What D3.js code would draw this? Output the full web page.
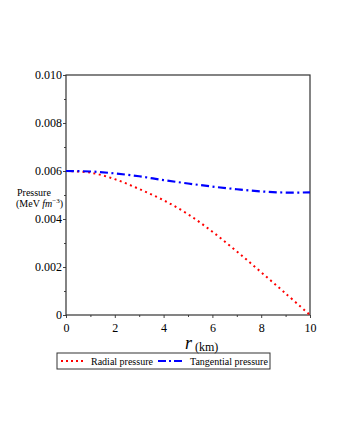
<!DOCTYPE html>
<meta charset="utf-8">
<style>
  body { margin: 0; background: #fff; }
  svg text { font-family: "Liberation Serif", "Times New Roman", serif; fill: #000; }
  .axis path { display: none; }
  .axis line { stroke: #444; }
  .axis text { font-size: 12px; }
  .frame { fill: none; stroke: #333; stroke-width: 1.2px; }
  .line { fill: none; stroke-width: 2px; }
</style>
<svg width="340" height="440"></svg>
<script src="https://cdn.jsdelivr.net/npm/d3@7"></script>
<script>

  // radius in km
  var radius = [0, 1, 2, 3, 4, 5, 6, 7, 8, 9, 10];
  // pressures in MeV fm^-3
  var radialPressure = [0.0060, 0.00593, 0.00566, 0.00525, 0.00478, 0.00420, 0.00347, 0.00265, 0.00178, 0.00090, 0.0];
  var tangentialPressure = [0.0060, 0.00598, 0.00590, 0.00578, 0.00562, 0.00548, 0.00535, 0.00524, 0.00515, 0.00510, 0.00511];

  var xTicks = [0, 2, 4, 6, 8, 10];
  var yTicks = [0, 0.002, 0.004, 0.006, 0.008, 0.010];
  var yTickLabels = ["0", "0.002", "0.004", "0.006", "0.008", "0.010"];

  var svg = d3.select("svg"),
    margin = { top: 75, right: 30, bottom: 125, left: 66 },
    width = svg.attr("width") - margin.left - margin.right,
    height = svg.attr("height") - margin.top - margin.bottom,
    g = svg.append("g").attr("transform", "translate(" + margin.left + "," + margin.top + ")");

  var xScale = d3.scaleLinear().domain([0, 10]).range([0, width]);
  var yScale = d3.scaleLinear().domain([0, 0.010]).range([height, 0]);

  // minor ticks
  g.append("g")
    .attr("class", "axis")
    .attr("transform", "translate(0," + height + ")")
    .call(d3.axisBottom(xScale).tickValues(d3.range(1, 10, 2)).tickSize(2).tickFormat(""));
  g.append("g")
    .attr("class", "axis")
    .call(d3.axisLeft(yScale).tickValues(d3.range(0.001, 0.01, 0.002)).tickSize(2).tickFormat(""));

  // major ticks
  g.append("g")
    .attr("class", "axis")
    .attr("transform", "translate(0," + height + ")")
    .call(d3.axisBottom(xScale).tickValues(xTicks).tickSize(3).tickPadding(5).tickFormat(d3.format("d")));
  g.append("g")
    .attr("class", "axis")
    .call(d3.axisLeft(yScale).tickValues(yTicks).tickSize(3).tickPadding(1)
      .tickFormat(function (d, i) { return yTickLabels[i]; }));

  // serif everywhere (d3 axes set sans-serif on their groups)
  g.selectAll(".axis").attr("font-family", null);

  g.append("rect")
    .attr("class", "frame")
    .attr("width", width)
    .attr("height", height);

  var line = d3.line()
    .curve(d3.curveCatmullRom)
    .x(function (d) { return xScale(d[0]); })
    .y(function (d) { return yScale(d[1]); });

  g.append("path")
    .attr("class", "line")
    .attr("d", line(d3.zip(radius, radialPressure)))
    .style("stroke", "#ff0000")
    .style("stroke-dasharray", "2,3.5");

  g.append("path")
    .attr("class", "line")
    .attr("d", line(d3.zip(radius, tangentialPressure)))
    .style("stroke", "#0000ff")
    .style("stroke-width", "2.2px")
    .style("stroke-dasharray", "8,3.5,2,3.5");

  // axis labels
  var xl = svg.append("text")
    .attr("x", 185)
    .attr("y", 349);
  xl.append("tspan").style("font-style", "italic").style("font-size", "18px").text("r");
  xl.append("tspan").attr("dy", 2).style("font-size", "12px").text(" (km)");

  svg.append("text")
    .attr("x", 17).attr("y", 196)
    .style("font-size", "10px")
    .text("Pressure");
  var yl = svg.append("text")
    .attr("x", 16).attr("y", 207)
    .style("font-size", "10px");
  yl.append("tspan").text("(MeV ");
  yl.append("tspan").style("font-style", "italic").text("fm");
  yl.append("tspan").attr("dy", -4).style("font-size", "7px").text("\u22123");
  yl.append("tspan").attr("dy", 4).text(")");

  // legend
  var legend = svg.append("g").attr("transform", "translate(57,353)");
  legend.append("rect")
    .attr("width", 213).attr("height", 16)
    .style("fill", "none").style("stroke", "#333");
  legend.append("line")
    .attr("x1", 4).attr("x2", 28).attr("y1", 8).attr("y2", 8)
    .style("stroke", "#ff0000").style("stroke-width", 2).style("stroke-dasharray", "2,3");
  legend.append("text").attr("x", 34).attr("y", 12).style("font-size", "10px").text("Radial  pressure");
  legend.append("line")
    .attr("x1", 101).attr("x2", 128).attr("y1", 8).attr("y2", 8)
    .style("stroke", "#0000ff").style("stroke-width", 2).style("stroke-dasharray", "8,3,2,3");
  legend.append("text").attr("x", 133).attr("y", 12).style("font-size", "10px").text("Tangential pressure");

</script>
